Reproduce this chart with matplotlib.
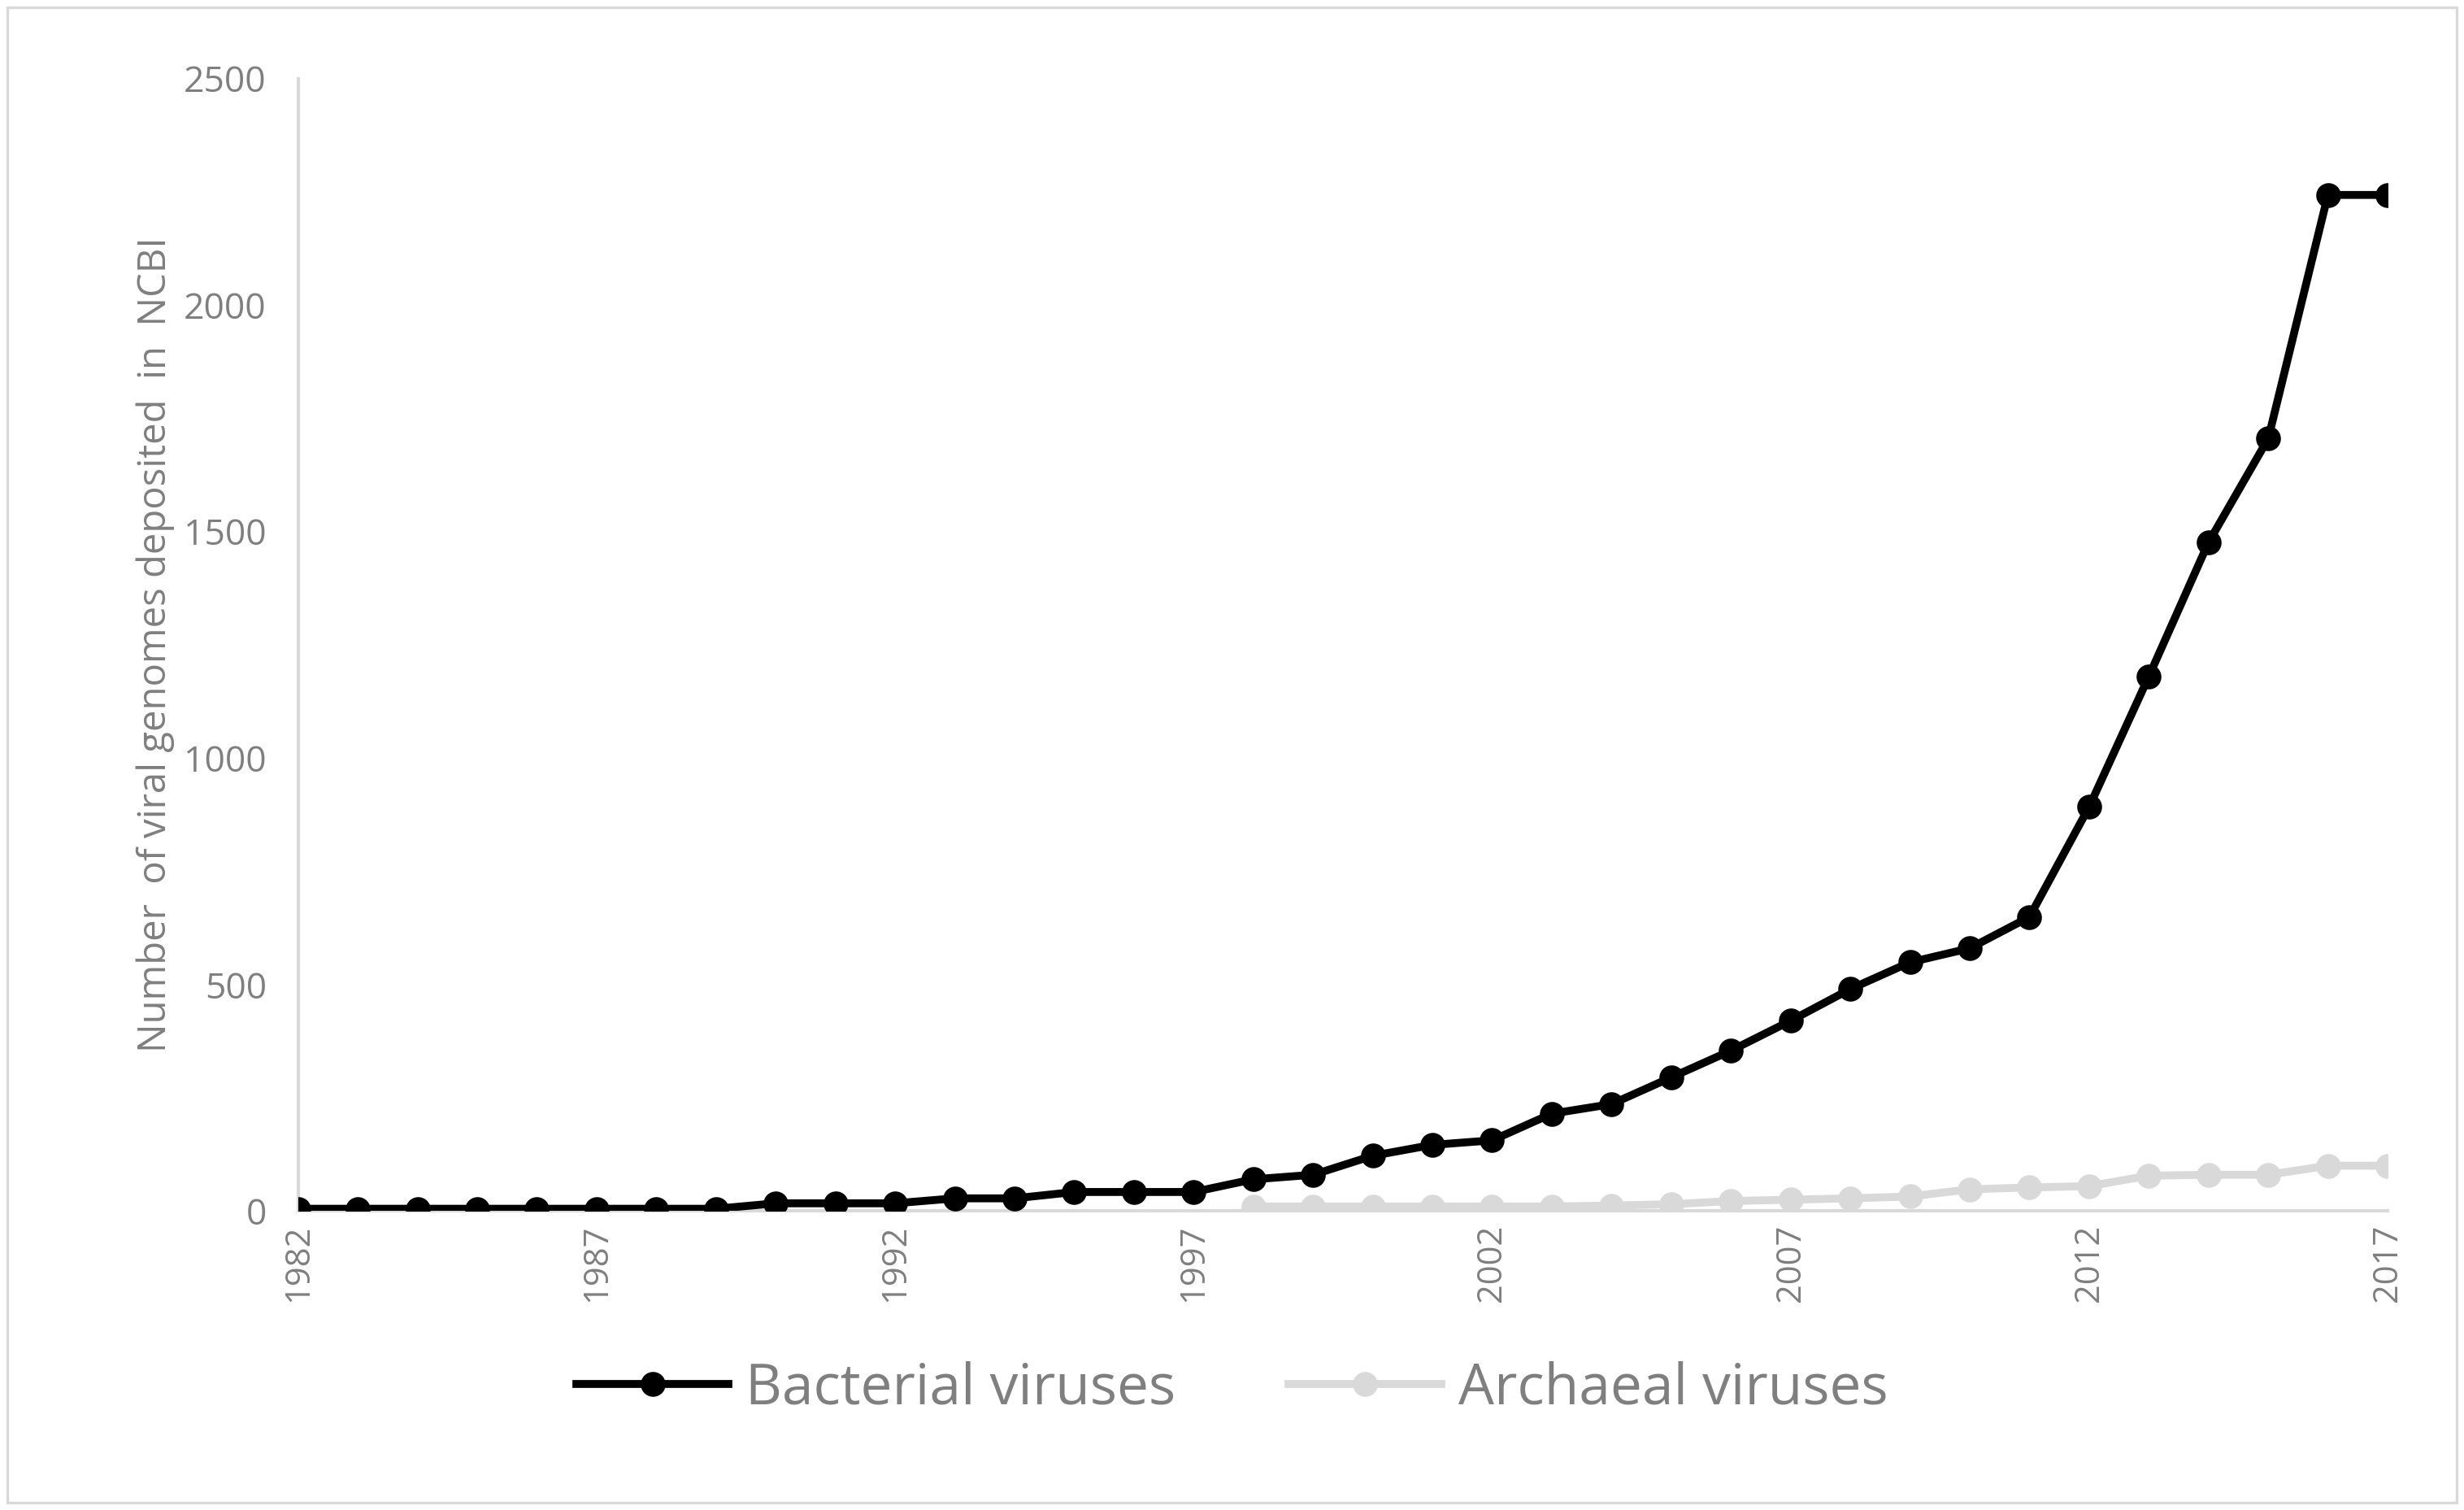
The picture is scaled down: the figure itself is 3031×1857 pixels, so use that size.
import numpy as np
import matplotlib.pyplot as plt
from matplotlib.patches import Rectangle

years = list(range(1982, 2018))
bacterial = [5, 5, 5, 5, 5, 5, 5, 5, 17, 17, 17, 28, 28, 42, 42, 42, 70, 80, 122, 146,
             156, 215, 236, 295, 354, 420, 490, 549, 580, 649, 892, 1180, 1476, 1705, 2243, 2243]
arch_years = list(range(1998, 2018))
archaeal = [10, 10, 10, 10, 10, 10, 12, 15, 22, 25, 28, 32, 48, 52, 55, 78, 80, 80, 100, 100]

plt.rcParams['font.family'] = ['Open Sans', 'DejaVu Sans']
grey = '#7f7f7f'

fig = plt.figure(figsize=(15.155, 9.285), dpi=200)
fig.patches.append(Rectangle((0.003, 0.005), 0.994, 0.99, transform=fig.transFigure,
                             fill=False, edgecolor='#d9d9d9', linewidth=1.2))
ax = fig.add_axes([0.121, 0.198, 0.848, 0.75])

ax.plot(years, bacterial, color='black', lw=3.5, marker='o', ms=10, label='Bacterial viruses', zorder=3)
ax.plot(arch_years, archaeal, color='#d9d9d9', lw=3.5, marker='o', ms=10, label='Archaeal viruses', zorder=2)

ax.set_xlim(1982, 2017)
ax.set_ylim(0, 2500)
ax.set_xticks(range(1982, 2018, 5))
ax.set_yticks(range(0, 2501, 500))
ax.tick_params(axis='x', rotation=90, labelsize=15, colors=grey, length=0, pad=6)
ax.tick_params(axis='y', labelsize=16, colors=grey, length=0, pad=14)
for s in ['top', 'right']:
    ax.spines[s].set_visible(False)
ax.spines['left'].set_color('#d9d9d9')
ax.spines['bottom'].set_color('#d9d9d9')
ax.spines['left'].set_linewidth(1.5)
ax.spines['bottom'].set_linewidth(1.5)
ax.set_ylabel('Number  of viral genomes deposited  in  NCBI', fontsize=17, color=grey)

leg = fig.legend(loc='center', bbox_to_anchor=(0.5, 0.08), ncol=2, frameon=False,
                 fontsize=25, handlelength=2.7, handletextpad=0.3, columnspacing=2.0)
for t in leg.get_texts():
    t.set_color(grey)

fig.savefig('out.png', dpi=200)
